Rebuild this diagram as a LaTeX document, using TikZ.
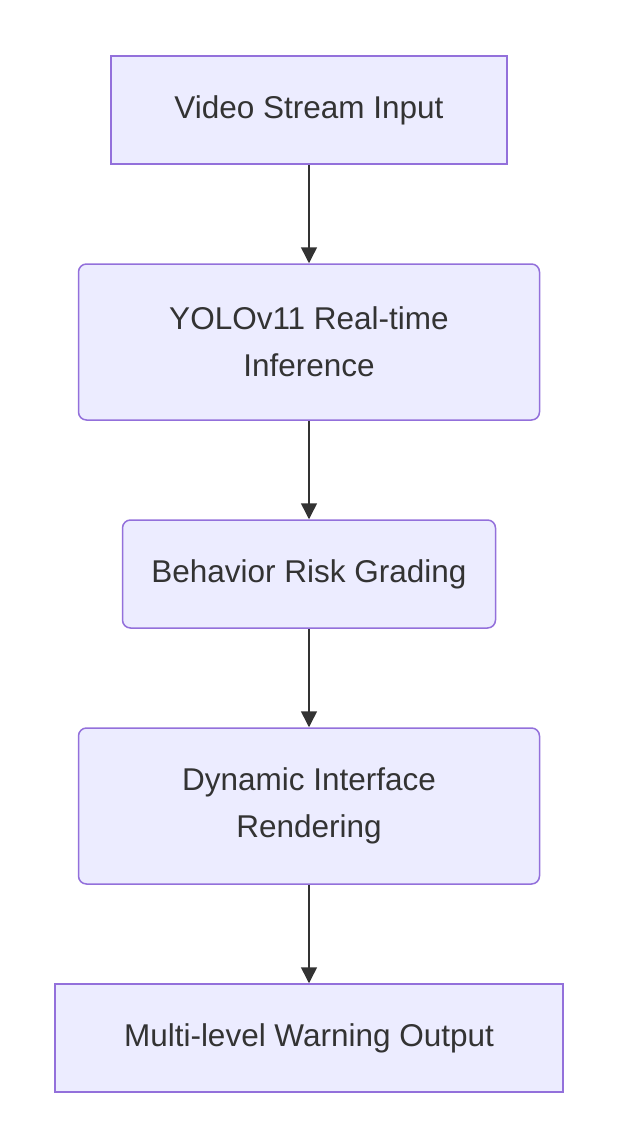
\documentclass[tikz,border=0pt]{standalone}
\usepackage{fontspec}
\setmainfont{Liberation Sans}
\usepackage{xcolor}
\usepackage{tikz}
\usetikzlibrary{arrows.meta}

\definecolor{boxfill}{HTML}{ECECFF}
\definecolor{boxline}{HTML}{9370DB}
\definecolor{arrowcol}{HTML}{333333}

\begin{document}
\begin{tikzpicture}[x=1pt, y=-1pt,
	stage/.style={draw=boxline, fill=boxfill, line width=1.5pt, align=center, text=arrowcol,
		font=\fontsize{31.5}{47}\selectfont, inner sep=0pt},
	roundstage/.style={stage, rounded corners=8pt},
	flow/.style={draw=arrowcol, line width=1.5pt, -{Triangle[length=16pt, width=16pt]}}]
	\useasboundingbox (0,0) rectangle (618,1148);
	\node[stage, minimum width=396pt, minimum height=108pt] (video) at (309,110) {Video Stream Input};
	\node[roundstage, minimum width=461pt, minimum height=156pt] (yolo) at (309,342) {YOLOv11 Real-time\\Inference};
	\node[roundstage, minimum width=373pt, minimum height=108pt] (risk) at (309,574) {Behavior Risk Grading};
	\node[roundstage, minimum width=461pt, minimum height=156pt] (render) at (309,806) {Dynamic Interface\\Rendering};
	\node[stage, minimum width=508pt, minimum height=108pt] (warn) at (309,1038) {Multi-level Warning Output};
	\draw[flow] (video) -- (yolo);
	\draw[flow] (yolo) -- (risk);
	\draw[flow] (risk) -- (render);
	\draw[flow] (render) -- (warn);
\end{tikzpicture}
\end{document}
